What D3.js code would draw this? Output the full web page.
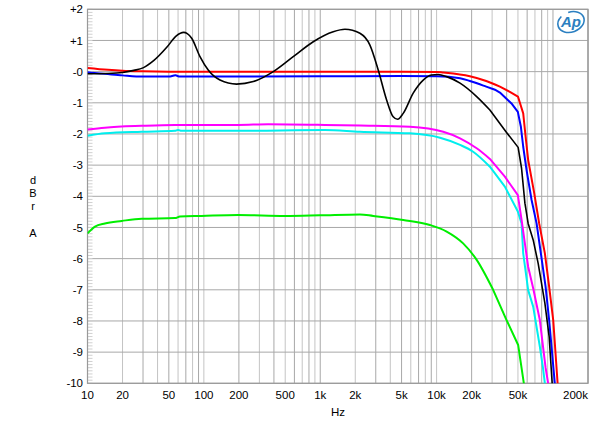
<!DOCTYPE html>
<html>
<head>
<meta charset="utf-8">
<script src="https://cdn.jsdelivr.net/npm/d3@7"></script>
<style>
  html, body { margin: 0; padding: 0; background: #fff; }
  svg { display: block; }
  text { font-family: "Liberation Sans", Arial, sans-serif; fill: #000; }
</style>
</head>
<body>
<svg id="chart" width="600" height="427"></svg>
<script>
// ---- Data (frequency Hz, level dBr) ----
const xTickValues = [10, 20, 50, 100, 200, 500, 1000, 2000, 5000, 10000, 20000, 50000, 200000];
const xTickLabels = ["10", "20", "50", "100", "200", "500", "1k", "2k", "5k", "10k", "20k", "50k", "200k"];
const yTickValues = [2, 1, 0, -1, -2, -3, -4, -5, -6, -7, -8, -9, -10];
const yTickLabels = ["+2", "+1", "-0", "-1", "-2", "-3", "-4", "-5", "-6", "-7", "-8", "-9", "-10"];
const yAxisLetters = ["d", "B", "r", "", "A"];
const xAxisTitle = "Hz";

const redSeries = [[10,0.12],[15,0.06],[20,0.03],[30,0.01],[50,0],[100,0],[1000,0],[5000,0],[10000,-0.01],
  [11400,-0.03],[19300,-0.15],[26700,-0.30],[35000,-0.48],[42600,-0.65],[50000,-0.80],[55500,-1.34],[58200,-2.09],
  [61200,-2.83],[69000,-3.90],[76100,-4.87],[85200,-5.83],[92700,-6.90],[100500,-7.97],[109600,-10],[112000,-10.6]];
const blueSeries = [[10,-0.02],[15,-0.08],[20,-0.12],[30,-0.16],[50,-0.16],[57,-0.12],[62,-0.16],[100,-0.16],
  [1000,-0.15],[5000,-0.14],[10000,-0.15],[15900,-0.21],[19300,-0.30],[26700,-0.48],[31700,-0.58],[35000,-0.67],
  [44000,-1.02],[49900,-1.29],[53000,-1.77],[55500,-2.41],[59300,-3.16],[65500,-4.12],[72300,-4.87],[78700,-5.83],
  [86400,-6.90],[92700,-7.97],[103700,-10],[106000,-10.5]];
const blackSeries = [[10,-0.07],[15,-0.06],[20,-0.03],[25,0.04],[30,0.12],[37,0.35],[48,0.78],[58,1.15],[67,1.26],
  [72,1.22],[78.6,1.07],[92.6,0.48],[109,0.05],[137.5,-0.27],[191,-0.40],[266,-0.32],[395,0.0],[586,0.48],[871,0.96],
  [1293,1.28],[1630,1.36],[2193,1.23],[2673,0.85],[3150,0.05],[3719,-0.91],[4237,-1.45],[4622,-1.53],[5164,-1.34],
  [6294,-0.69],[7673,-0.27],[9057,-0.11],[10300,-0.09],[12200,-0.16],[15900,-0.37],[22100,-0.80],[28700,-1.23],
  [39900,-1.95],[50200,-2.43],[53700,-3.10],[57400,-4.22],[61200,-4.87],[67600,-5.40],[74600,-6.15],
  [85200,-7.43],[92700,-8.50],[98400,-10],[100000,-10.5]];
const magentaSeries = [[10,-1.86],[14.1,-1.80],[29.2,-1.74],[56.5,-1.71],[197,-1.71],[357,-1.69],[1096,-1.71],
  [2193,-1.73],[5896,-1.77],[11400,-1.93],[15900,-2.14],[22100,-2.46],[28700,-2.80],[38600,-3.37],[49900,-3.96],
  [53700,-4.75],[61200,-6.26],[67600,-6.95],[77100,-7.97],[86400,-9.5],[90900,-10],[92500,-10.5]];
const cyanSeries = [[10,-2.06],[14.1,-1.98],[29.2,-1.93],[56.5,-1.90],[60,-1.87],[64,-1.90],[197,-1.90],[1096,-1.87],
  [2193,-1.93],[5896,-1.98],[10700,-2.12],[15900,-2.35],[20600,-2.57],[28700,-3.05],[38600,-3.69],
  [49900,-4.49],[53700,-4.87],[55500,-5.83],[61200,-7.01],[67600,-7.54],[77100,-8.82],[82000,-9.5],[85200,-10],[87000,-10.5]];
const greenSeries = [[10,-5.19],[11.6,-4.97],[14.1,-4.87],[19.7,-4.79],[29.2,-4.72],[56.5,-4.70],[62.3,-4.65],
  [95.7,-4.63],[197,-4.60],[498,-4.63],[994,-4.61],[2193,-4.58],[2852,-4.63],[5164,-4.76],[8757,-4.92],
  [12200,-5.13],[16900,-5.51],[22100,-6.04],[30600,-7.00],[39900,-7.97],[50200,-8.77],[56200,-10],[57000,-10.3]];

const series = [
  { data: greenSeries,   color: "#00ee00", width: 2 },
  { data: cyanSeries,    color: "#00eeee", width: 2 },
  { data: magentaSeries, color: "#ff00ff", width: 2 },
  { data: blueSeries,    color: "#0000ff", width: 2 },
  { data: redSeries,     color: "#ff0000", width: 2 },
  { data: blackSeries,   color: "#000000", width: 1.6 }
];
// above this frequency the analyzer points are sparse: joined by straight segments
const linearFrom = 28000;

// ---- Layout ----
const svg = d3.select("#chart");
const pl = 87.5, pr = 588, pt = 9.3, pb = 383.3;
const x = d3.scaleLog().domain([10, 200000]).range([pl, pr]);
const y = d3.scaleLinear().domain([-10, 2]).range([pb, pt]);

// grid: vertical
const vLines = [];
for (let dec = 10; dec <= 100000; dec *= 10) {
  for (let m = 1; m <= 9; m++) { const v = dec * m; if (v <= 200000) vLines.push(v); }
}
vLines.push(200000);
const grid = svg.append("g");
grid.selectAll("line.v").data(vLines).join("line")
  .attr("x1", d => x(d)).attr("x2", d => x(d))
  .attr("y1", pt).attr("y2", pb)
  .attr("stroke", (d, i) => (i % 2 ? "#c4c4c4" : "#a8a8a8"))
  .attr("stroke-width", 1);
grid.selectAll("line.h").data(yTickValues).join("line")
  .attr("x1", pl).attr("x2", pr)
  .attr("y1", d => y(d)).attr("y2", d => y(d))
  .attr("stroke", "#a8a8a8").attr("stroke-width", 1);

// minor ticks on left edge (0.1 dB)
const minor = d3.range(-100, 21).map(d => d / 10);
grid.selectAll("line.m").data(minor).join("line")
  .attr("x1", pl).attr("x2", pl + 5)
  .attr("y1", d => y(d)).attr("y2", d => y(d))
  .attr("stroke", "#d0d0d0").attr("stroke-width", 1);

// frame
svg.append("rect").attr("x", pl).attr("y", pt)
  .attr("width", pr - pl).attr("height", pb - pt)
  .attr("fill", "none").attr("stroke", "#999").attr("stroke-width", 1.2);

// curves
svg.append("clipPath").attr("id", "clip").append("rect")
  .attr("x", pl).attr("y", pt).attr("width", pr - pl).attr("height", pb - pt);
const smooth = d3.line().x(d => x(d[0])).y(d => y(d[1])).curve(d3.curveMonotoneX);
const straight = d3.line().x(d => x(d[0])).y(d => y(d[1])).curve(d3.curveLinear);
function pathFor(data) {
  const k = data.findIndex(d => d[0] >= linearFrom);
  const lo = data.slice(0, k + 1), hi = data.slice(k);
  return smooth(lo) + straight(hi).replace(/^M/, "L");
}
svg.append("g").attr("clip-path", "url(#clip)")
  .selectAll("path").data(series).join("path")
  .attr("d", d => pathFor(d.data))
  .attr("fill", "none").attr("stroke", d => d.color)
  .attr("stroke-width", d => d.width).attr("stroke-linejoin", "round");

// axis labels
svg.append("g").selectAll("text").data(yTickValues).join("text")
  .attr("x", 83).attr("y", d => y(d)).attr("dy", "0.36em")
  .attr("text-anchor", "end").attr("font-size", 11.5)
  .text((d, i) => yTickLabels[i]);
svg.append("g").selectAll("text").data(xTickValues).join("text")
  .attr("x", d => x(d)).attr("y", 399)
  .attr("text-anchor", d => d === 200000 ? "end" : "middle").attr("font-size", 11.5)
  .text((d, i) => xTickLabels[i]);
svg.append("text").attr("x", 338).attr("y", 416).attr("text-anchor", "middle")
  .attr("font-size", 11.5).text(xAxisTitle);
svg.append("g").selectAll("text").data(yAxisLetters).join("text")
  .attr("x", 33).attr("y", (d, i) => 184 + i * 13.2).attr("text-anchor", "middle")
  .attr("font-size", 11).text(d => d);

// AP logo
const logo = svg.append("g").attr("transform", "translate(571,22)");
logo.append("ellipse").attr("rx", 13.5).attr("ry", 10).attr("fill", "none")
  .attr("stroke", "#2b7fc1").attr("stroke-width", 1.6).attr("stroke-dasharray", "48 8")
  .attr("transform", "rotate(-20)");
logo.append("text").attr("x", 0).attr("y", 5).attr("text-anchor", "middle")
  .attr("font-size", 15).attr("font-style", "italic").attr("font-weight", "bold")
  .style("fill", "#2b7fc1").text("Ap");
</script>
</body>
</html>
